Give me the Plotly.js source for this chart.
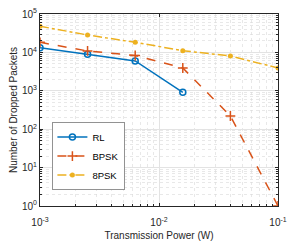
<!DOCTYPE html>
<html><head><meta charset="utf-8">
<script src="https://cdn.plot.ly/plotly-3.0.1.min.js"></script>
<style>html,body{margin:0;padding:0;background:#fff}#c{width:290px;height:245px}</style>
</head><body><div id="c"></div>
<script>
const power = [0.001, 0.00251, 0.00631, 0.01585, 0.0398, 0.1];
const rlVals = [13200, 8900, 6000, 910];
const bpskVals = [18300, 10900, 8300, 3930, 221, 1];
const psk8Vals = [48000, 28400, 18300, 11100, 8060, 3930];
const names = ["RL", "BPSK", "8PSK"];
const xTickVals = [0.001, 0.01, 0.1];
const xTickText = ["10<sup>-3</sup>", "10<sup>-2</sup>", "10<sup>-1</sup>"];
const yTickVals = [1, 10, 100, 1000, 10000, 100000];
const yTickText = ["10<sup>0</sup>", "10<sup>1</sup>", "10<sup>2</sup>", "10<sup>3</sup>", "10<sup>4</sup>", "10<sup>5</sup>"];

function minorVals(decades) {
  const out = [];
  decades.forEach(d => { for (let m = 2; m <= 9; m++) out.push(m * d); });
  return out;
}

const traces = [
  {x: power.slice(0, rlVals.length), y: rlVals, name: names[0], mode: 'lines+markers',
   line: {color: '#0072BD', width: 1.5},
   marker: {symbol: 'circle-open', size: 6, color: '#0072BD', line: {width: 1.5}}},
  {x: power, y: bpskVals, name: names[1], mode: 'lines+markers',
   line: {color: '#D95319', width: 1.5, dash: 'dash'},
   marker: {symbol: 'cross-thin-open', size: 7, color: '#D95319', line: {width: 1.5, color: '#D95319'}}},
  {x: power, y: psk8Vals, name: names[2], mode: 'lines+markers',
   line: {color: '#EDB120', width: 1.5, dash: 'dashdot'},
   marker: {symbol: 'circle', size: 5, color: '#EDB120'}},
  {x: [], y: [], xaxis: 'x2', showlegend: false, hoverinfo: 'skip'}
];

const fontFam = 'Liberation Sans, Arial, sans-serif';
const minorCommon = {ticks: 'inside', ticklen: 2, tickcolor: '#262626', showgrid: true, gridcolor: '#d8d8d8', griddash: 'dot', gridwidth: 0.6, tickmode: 'array'};
const axisCommon = {
  type: 'log', showline: true, mirror: 'ticks', linecolor: '#262626', linewidth: 1,
  ticks: 'inside', ticklen: 3, tickcolor: '#262626',
  showgrid: true, gridcolor: '#e3e3e3', gridwidth: 1,
  zeroline: false, tickmode: 'array',
  tickfont: {family: fontFam, size: 10, color: '#262626'}
};

const layout = {
  width: 290, height: 245,
  margin: {l: 40, r: 12, t: 14, b: 39},
  paper_bgcolor: '#fff', plot_bgcolor: '#fff',
  showlegend: true,
  legend: {x: 0.05, y: 0.083, xanchor: 'left', yanchor: 'bottom', bgcolor: '#fff',
    bordercolor: '#262626', borderwidth: 0.5,
    font: {family: fontFam, size: 9.5, color: '#000'},
    tracegroupgap: 0, itemwidth: 30},
  xaxis: Object.assign({}, axisCommon, {range: [-3, -1], tickvals: xTickVals, ticktext: xTickText,
    ticks: 'outside', ticklen: 7, tickcolor: 'rgba(0,0,0,0)', mirror: true,
    minor: Object.assign({}, minorCommon, {tickvals: minorVals([0.001, 0.01])}),
    title: {text: 'Transmission Power (W)', standoff: 4,
      font: {family: fontFam, size: 10, color: '#262626'}}}),
  xaxis2: {type: 'log', range: [-3, -1], overlaying: 'x', anchor: 'y', side: 'bottom',
    showline: false, mirror: 'allticks', ticks: 'inside', ticklen: 3, tickcolor: '#262626',
    tickmode: 'array', tickvals: xTickVals, showticklabels: false, showgrid: false, zeroline: false},
  yaxis: Object.assign({}, axisCommon, {range: [0, 5], tickvals: yTickVals, ticktext: yTickText,
    minor: Object.assign({}, minorCommon, {tickvals: minorVals([1, 10, 100, 1000, 10000])}),
    title: {text: 'Number of Dropped Packets', standoff: 2,
      font: {family: fontFam, size: 10, color: '#262626'}}})
};

Plotly.newPlot('c', traces, layout, {displayModeBar: false, staticPlot: true});
</script></body></html>
